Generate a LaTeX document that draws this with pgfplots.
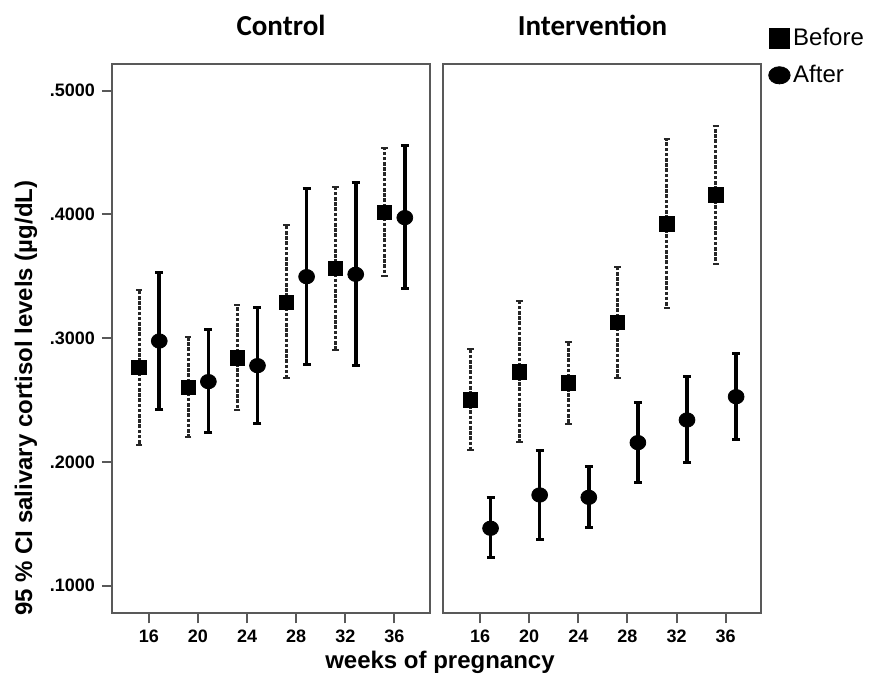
\documentclass[border=0pt]{standalone}
\usepackage{fontspec}
\setmainfont{Liberation Sans}
\newfontfamily\titlefont{Carlito}
\usepackage{pgfplots}
\usepackage{pgfplotstable}
\pgfplotsset{compat=1.18}

% mean, upper and lower half-width of the 95 % CI
\pgfplotstableread{
x     y      ep     em
15.2  0.2765 0.0625 0.0628
19.2  0.2603 0.0409 0.0399
23.2  0.2842 0.0426 0.0422
27.2  0.3290 0.0625 0.0614
31.2  0.3565 0.0659 0.0660
35.2  0.4017 0.0518 0.0514
}\ctlbefore
\pgfplotstableread{
x     y      ep     em
16.85 0.2977 0.0556 0.0552
20.85 0.2649 0.0423 0.0409
24.85 0.2778 0.0472 0.0471
28.85 0.3497 0.0714 0.0708
32.85 0.3516 0.0744 0.0738
36.85 0.3974 0.0579 0.0576
}\ctlafter
\pgfplotstableread{
x     y      ep     em
15.2  0.2501 0.0409 0.0404
19.2  0.2729 0.0574 0.0565
23.2  0.2640 0.0332 0.0333
27.2  0.3128 0.0450 0.0447
31.2  0.3923 0.0684 0.0681
35.2  0.4157 0.0560 0.0557
}\intbefore
\pgfplotstableread{
x     y      ep     em
16.85 0.1464 0.0250 0.0238
20.85 0.1733 0.0358 0.0358
24.85 0.1714 0.0248 0.0245
28.85 0.2156 0.0323 0.0320
32.85 0.2339 0.0350 0.0345
36.85 0.2527 0.0351 0.0344
}\intafter

\pgfplotsset{
  panel/.style={scale only axis, width=159pt, height=274.5pt,
    xmin=13, xmax=38.9, ymin=0.0777, ymax=0.5213,
    xtick={16,20,24,28,32,36}, xtick pos=bottom,
    axis line style={draw=black!65, line width=1pt},
    tick style={draw=black!65, line width=1pt},
    tick align=outside, major tick length=5pt,
    tick label style={font=\fontsize{9}{10}\selectfont\bfseries},
    /pgf/number format/assume math mode=true,
    clip=false},
  before/.style={only marks, mark=square*, mark size=3.6pt,
    error bars/.cd, y dir=both, y explicit,
    error bar style={line width=1.5pt, black!85, dash pattern=on 1.8pt off 0.8pt},
    error mark options={rotate=90, mark size=1.6pt, line width=1pt, solid, black!85},
    /pgfplots/.cd},
  after/.style={only marks, mark=*, mark size=3.6pt, mark options={xscale=1.1},
    error bars/.cd, y dir=both, y explicit,
    error bar style={line width=1.8pt, black},
    error mark options={rotate=90, mark size=2pt, line width=1.5pt, black},
    /pgfplots/.cd},
}

\begin{document}
\begin{tikzpicture}
\path (0,0) rectangle (437.5pt,340pt);

\begin{axis}[panel, at={(56pt,33.35pt)}, anchor=south west,
    ytick={0.1,0.2,0.3,0.4,0.5}, yticklabels={.1000,.2000,.3000,.4000,.5000},
    ytick pos=left]
\addplot[before] table[x=x, y=y, y error plus=ep, y error minus=em] {\ctlbefore};
\addplot[after] table[x=x, y=y, y error plus=ep, y error minus=em] {\ctlafter};
\end{axis}

\begin{axis}[panel, at={(221.65pt,33.35pt)}, anchor=south west, ytick=\empty,
    legend style={at={(1.022,1.072)}, anchor=north west, draw=none, fill=none,
      font=\fontsize{12}{14}\selectfont, inner sep=0pt, row sep=5.3pt,
      nodes={inner sep=1.5pt}},
    legend cell align=left,
    legend image code/.code={\draw[#1] plot coordinates {(5pt,0pt)};}]
\addplot[forget plot, before] table[x=x, y=y, y error plus=ep, y error minus=em] {\intbefore};
\addplot[forget plot, after] table[x=x, y=y, y error plus=ep, y error minus=em] {\intafter};
\addlegendimage{only marks, mark=square*, mark size=4.8pt}
\addlegendentry{Before}
\addlegendimage{only marks, mark=*, mark size=4.3pt, mark options={xscale=1.25}}
\addlegendentry{After}
\end{axis}

\node[font=\titlefont\bfseries\fontsize{14.5}{16}\selectfont] at (140.5pt,327.5pt) {Control};
\node[font=\titlefont\bfseries\fontsize{14.5}{16}\selectfont] at (296.25pt,327.5pt) {Intervention};
\node[font=\bfseries\fontsize{12}{14}\selectfont] at (220pt,9pt) {weeks of pregnancy};
\node[font=\bfseries\fontsize{12}{14}\selectfont, rotate=90, anchor=west] at (13pt,28.5pt)
  {95 \% CI salivary cortisol levels (µg/dL)};
\end{tikzpicture}
\end{document}
